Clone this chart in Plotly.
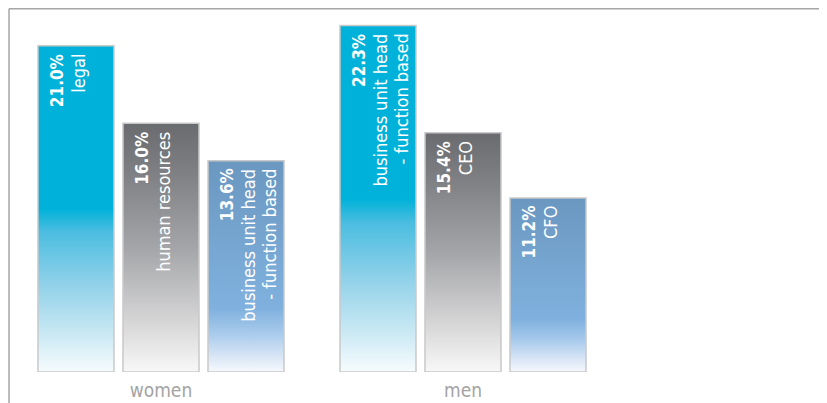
import plotly.graph_objects as go

groups = ["women", "men"]
women_values = [21.0, 16.0, 13.6]
women_labels = ["legal", "human resources", "business unit head<br>- function based"]
men_values = [22.3, 15.4, 11.2]
men_labels = ["business unit head<br>- function based", "CEO", "CFO"]

values = [women_values, men_values]
labels = [women_labels, men_labels]

scales = [
    [[0, "#f7fcfe"], [0.12, "#c8e8f3"], [0.27, "#90d1e9"], [0.43, "#4bbde0"], [0.5, "#00b2d9"], [1, "#00b2d9"]],
    [[0, "#f8f8f8"], [0.2, "#d6d6d7"], [0.5, "#a4a5a8"], [0.8, "#7f8083"], [1, "#6a6b6e"]],
    [[0, "#f6f9fd"], [0.08, "#d6e4f5"], [0.18, "#a9cbec"], [0.3, "#80b1de"], [1, "#6a97c0"]],
]

BAR_W = 0.2517
STEP = 0.2815
FONT = "Liberation Sans Narrow, Arial Narrow, DejaVu Sans Condensed, sans-serif"

fig = go.Figure()
annotations = []
for gi, g in enumerate(groups):
    for bi, v in enumerate(values[gi]):
        xc = gi + (bi - 1) * STEP
        x0, x1 = xc - BAR_W / 2, xc + BAR_W / 2
        fig.add_trace(go.Scatter(
            x=[x0, x1, x1, x0, x0], y=[0, 0, v, v, 0],
            mode="lines", fill="toself",
            fillgradient=dict(type="vertical", colorscale=scales[bi], start=0, stop=v),
            line=dict(color="#c9c9c9", width=1.5),
            hoverinfo="skip", showlegend=False,
        ))
        lines = ["<b>%.1f%%</b>" % v] + labels[gi][bi].split("<br>")
        for li, t in enumerate(lines):
            annotations.append(dict(
                x=x0, y=v, xref="x", yref="y", text=t, showarrow=False,
                textangle=-90, xanchor="left", yanchor="top",
                xshift=7 + li * 21, yshift=-6,
                font=dict(family=FONT, size=17 if li == 0 else 18, color="white"),
            ))

fig.update_layout(
    width=819, height=395,
    margin=dict(l=2, r=0, t=1, b=31),
    paper_bgcolor="white", plot_bgcolor="white",
    annotations=annotations,
    xaxis=dict(range=[-0.5, 2.2053], tickvals=[0, 1], ticktext=groups,
               showgrid=False, zeroline=False, showline=False, ticks="",
               ticklabelstandoff=5,
               tickfont=dict(family=FONT, size=19, color="#a3a3a3")),
    yaxis=dict(range=[0, 23.36], visible=False),
    shapes=[
        dict(type="line", xref="paper", yref="paper", x0=-0.0012, x1=1.0, y0=1.0007, y1=1.0007,
             line=dict(color="#a6a6a6", width=1.5)),
        dict(type="line", xref="paper", yref="paper", x0=-0.0012, x1=-0.0012, y0=1.0007, y1=-0.1,
             line=dict(color="#a6a6a6", width=1.5)),
    ],
)
fig.write_html("out.html")
